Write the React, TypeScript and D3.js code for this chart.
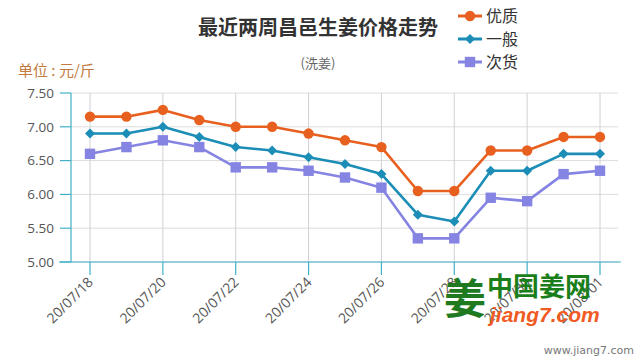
import React from "react";
import * as d3 from "d3";

const dates = ["20/07/18","20/07/19","20/07/20","20/07/21","20/07/22","20/07/23","20/07/24","20/07/25","20/07/26","20/07/27","20/07/28","20/07/29","20/07/30","20/07/31","20/08/01"];
const tickDates = ["20/07/18","20/07/20","20/07/22","20/07/24","20/07/26","20/07/28","20/07/30","20/08/01"];
const youzhi = [7.15,7.15,7.25,7.10,7.00,7.00,6.90,6.80,6.70,6.05,6.05,6.65,6.65,6.85,6.85];
const yiban = [6.90,6.90,7.00,6.85,6.70,6.65,6.55,6.45,6.30,5.70,5.60,6.35,6.35,6.60,6.60];
const cihuo = [6.60,6.70,6.80,6.70,6.40,6.40,6.35,6.25,6.10,5.35,5.35,5.95,5.90,6.30,6.35];
const yTicks = [5.0,5.5,6.0,6.5,7.0,7.5];
const seriesNames = ["优质","一般","次货"];

const colors = ["#E8601F","#1B8DB6","#8584E2"];
const FONT = "'Noto Sans CJK SC','Noto Sans',sans-serif";

export default function App() {
  const W = 640, H = 360;
  const x = d3.scalePoint<string>().domain(dates).range([90, 600]);
  const y = d3.scaleLinear().domain([5, 7.5]).range([262, 93]);
  const line = d3.line<number>().x((_, i) => x(dates[i])!).y(d => y(d));
  const series = [youzhi, yiban, cihuo];

  const marker = (k: number, cx: number, cy: number, key: any, s = 1) => {
    if (k === 0) return <circle key={key} cx={cx} cy={cy} r={5.2 * s} fill={colors[0]} />;
    if (k === 1) {
      const r = 5 * s;
      return <path key={key} d={`M${cx},${cy - r}L${cx + r},${cy}L${cx},${cy + r}L${cx - r},${cy}Z`} fill={colors[1]} />;
    }
    const h = 5.2 * s;
    return <rect key={key} x={cx - h} y={cy - h} width={2 * h} height={2 * h} fill={colors[2]} />;
  };

  return (
    <svg width={W} height={H} style={{ position: "absolute", left: 0, top: 0, background: "#fff" }} fontFamily={FONT}>
      <rect width={W} height={H} fill="#fff" />
      {yTicks.map(t => (
        <line key={"g" + t} x1={71} x2={618} y1={y(t)} y2={y(t)} stroke="#dcdcdc" strokeWidth={1} />
      ))}
      {tickDates.map(d => (
        <line key={"v" + d} x1={x(d)} x2={x(d)} y1={93} y2={262} stroke="#d0d0d8" strokeWidth={1} />
      ))}
      <line x1={71} x2={71} y1={93} y2={262} stroke="#3fb0c8" strokeWidth={1.2} />
      {yTicks.map(t => (
        <g key={"yt" + t}>
          <line x1={60} x2={71} y1={y(t)} y2={y(t)} stroke="#3fb0c8" strokeWidth={1.2} />
          <text x={54} y={y(t)} dy="0.35em" textAnchor="end" fontSize={13.5} fill="#555" fontFamily="'Open Sans',sans-serif">{t.toFixed(2)}</text>
        </g>
      ))}
      <line x1={59} x2={621} y1={262} y2={262} stroke="#3fb0c8" strokeWidth={1.2} />
      {tickDates.map(d => (
        <g key={"xt" + d}>
          <line x1={x(d)} x2={x(d)} y1={262} y2={275} stroke="#3fb0c8" strokeWidth={1.2} />
          <text transform={`translate(${x(d)! + 4},${283}) rotate(-45)`} textAnchor="end" fontSize={14} fill="#555" fontFamily="'Open Sans',sans-serif">{d}</text>
        </g>
      ))}
      {series.map((s, k) => (
        <path key={"l" + k} d={line(s)!} fill="none" stroke={colors[k]} strokeWidth={2.6} strokeLinejoin="round" />
      ))}
      {series.map((s, k) => s.map((v, i) => marker(k, x(dates[i])!, y(v), `m${k}-${i}`)))}
      <text x={318} y={35} textAnchor="middle" fontSize={20} fontWeight="bold" fill="#333">最近两周昌邑生姜价格走势</text>
      <text x={318} y={68} textAnchor="middle" fontSize={13} fill="#666">(洗姜)</text>
      <text x={18} y={76} fontSize={15} fill="#C27A3E">单位 : 元/斤</text>
      {seriesNames.map((n, k) => {
        const cy = 16 + k * 23;
        return (
          <g key={"lg" + k}>
            <line x1={458} x2={482} y1={cy} y2={cy} stroke={colors[k]} strokeWidth={3} />
            {marker(k, 470, cy, "lm" + k)}
            <text x={486} y={cy} dy="0.36em" fontSize={16} fill="#333">{n}</text>
          </g>
        );
      })}
      <g>
        <text x={444} y={314} fontSize={42} fontWeight="bold" fill="#1f7a1f">姜</text>
        <text x={487} y={296} fontSize={26} fontWeight="bold" fill="#1a7f1a">中国姜网</text>
        <text x={490} y={322} fontSize={21} fontWeight="bold" fontStyle="italic" fill="#F15A22" fontFamily="'Liberation Sans',Arial,sans-serif">jiang7.com</text>
        <text x={634} y={354} textAnchor="end" fontSize={11} fill="#777" fontFamily="'DejaVu Sans',sans-serif">www.jiang7.com</text>
      </g>
    </svg>
  );
}
